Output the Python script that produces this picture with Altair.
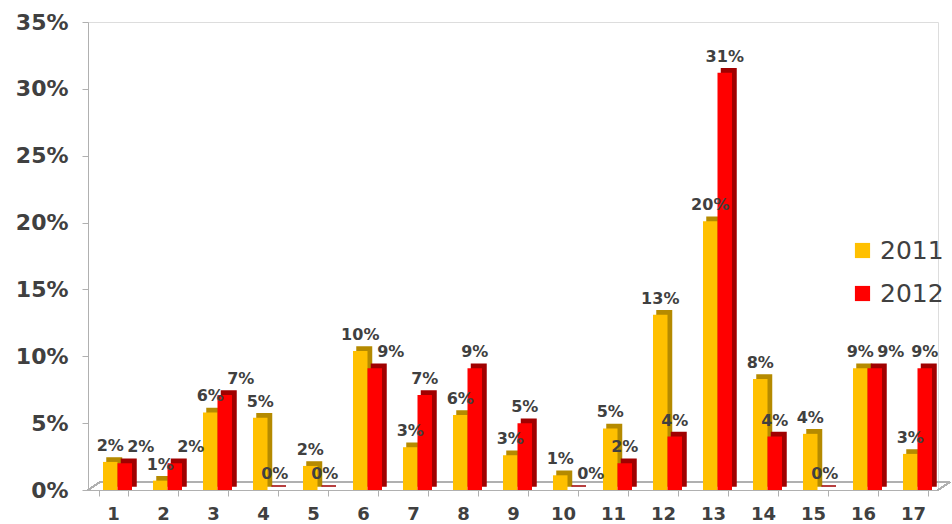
import altair as alt
import pandas as pd

# Share of responses per category, by year
categories = [str(i) for i in range(1, 18)]
share_2011 = [0.021, 0.007, 0.058, 0.054, 0.018, 0.104, 0.032, 0.056, 0.026,
              0.011, 0.046, 0.131, 0.201, 0.083, 0.042, 0.091, 0.027]
share_2012 = [0.020, 0.020, 0.071, 0.000, 0.000, 0.091, 0.071, 0.091, 0.050,
              0.000, 0.020, 0.040, 0.312, 0.040, 0.000, 0.091, 0.091]
years = ["2011", "2012"]
front_colors = ["#FFC000", "#FF0000"]
side_colors = ["#B58A00", "#A00000"]

rows = []
for cat, a, b in zip(categories, share_2011, share_2012):
    near = abs(a - b) < 0.015  # 2012 label nudged aside when values are close
    rows.append({"cat": cat, "year": "2011", "value": a, "near": False})
    rows.append({"cat": cat, "year": "2012", "value": b, "near": near})
df = pd.DataFrame(rows)

FONT = "DejaVu Sans"
TEXT = "#404040"
GRAY = "#B0B0B0"
W, H = 850, 468
HALF = 14.5      # width of one bar
SHIFT = 4.5      # bars sit slightly behind the front edge of the floor
DX, DY = 4, -4   # extrusion depth of the bars

x_enc = alt.X(
    "cat:N", sort=categories, title=None,
    scale=alt.Scale(paddingInner=0.42, paddingOuter=0.21),
    axis=alt.Axis(labelAngle=0, labelFontSize=18, labelFontWeight="bold",
                  labelColor=TEXT, labelFont=FONT, domainColor=GRAY,
                  tickColor=GRAY, tickSize=6, tickBand="extent",
                  labelPadding=9),
)
y_enc = alt.Y(
    "value:Q", title=None,
    scale=alt.Scale(domain=[0, 0.35], nice=False),
    axis=alt.Axis(format=".0%", values=[0, 0.05, 0.10, 0.15, 0.20, 0.25, 0.30, 0.35],
                  labelFontSize=22, labelFontWeight="bold", labelColor=TEXT,
                  labelFont=FONT, domainColor=GRAY, tickColor=GRAY, tickSize=6,
                  labelPadding=14, grid=False),
)

base = alt.Chart(df)

# 3D floor outline
floor_back = base.mark_rule(color=GRAY, strokeWidth=1.5, yOffset=DY * 2).encode(
    x=alt.value(12), x2=alt.value(W + 12), y=alt.datum(0, scale=alt.Scale(domain=[0, 0.35])))
floor_left = base.mark_rule(color=GRAY, strokeWidth=1.5, y2Offset=DY * 2).encode(
    x=alt.value(0), x2=alt.value(12), y=alt.value(H), y2=alt.value(H))
floor_right = base.mark_rule(color=GRAY, strokeWidth=1.5, y2Offset=DY * 2).encode(
    x=alt.value(W), x2=alt.value(W + 12), y=alt.value(H), y2=alt.value(H))

layers = [floor_back, floor_left, floor_right]
offsets = {"2011": -HALF / 2 + SHIFT, "2012": HALF / 2 + SHIFT}

# darker extruded copies behind the front faces
for yr, side in zip(years, side_colors):
    layers.append(
        base.transform_filter(alt.datum.year == yr)
        .mark_bar(width=HALF, xOffset=offsets[yr] + DX, yOffset=DY,
                  color=side, stroke=side, strokeWidth=1.5)
        .encode(x=x_enc, y=y_enc)
    )

color_enc = alt.Color(
    "year:N", title=None,
    scale=alt.Scale(domain=years, range=front_colors),
    legend=alt.Legend(orient="none", legendX=762, legendY=216, symbolType="square",
                      symbolSize=230, symbolStrokeWidth=0, labelFontSize=25,
                      labelFont=FONT, labelColor=TEXT, rowPadding=17,
                      labelLimit=200, padding=0, labelOffset=5),
)
for yr in years:
    layers.append(
        base.transform_filter(alt.datum.year == yr)
        .mark_bar(width=HALF, xOffset=offsets[yr])
        .encode(x=x_enc, y=y_enc, color=color_enc)
    )

label_style = dict(font=FONT, fontSize=16, fontWeight="bold", color=TEXT,
                   baseline="middle", align="center", dy=-16)
layers.append(
    base.transform_filter(alt.datum.year == "2011")
    .mark_text(xOffset=offsets["2011"], **label_style)
    .encode(x=x_enc, y=y_enc, text=alt.Text("value:Q", format=".0%"))
)
layers.append(
    base.transform_filter((alt.datum.year == "2012") & (alt.datum.near == False))
    .mark_text(xOffset=offsets["2012"], **label_style)
    .encode(x=x_enc, y=y_enc, text=alt.Text("value:Q", format=".0%"))
)
layers.append(
    base.transform_filter((alt.datum.year == "2012") & (alt.datum.near == True))
    .mark_text(xOffset=offsets["2012"] + 16, **label_style)
    .encode(x=x_enc, y=y_enc, text=alt.Text("value:Q", format=".0%"))
)

chart = (
    alt.layer(*layers)
    .properties(width=W, height=H, autosize=alt.AutoSizeParams(type="none"),
                padding={"left": 88, "top": 22, "right": 14, "bottom": 34})
    .configure_view(stroke=None)
    .configure(background="white")
)

chart.save("out.html", embed_options={"renderer": "svg", "actions": False})
